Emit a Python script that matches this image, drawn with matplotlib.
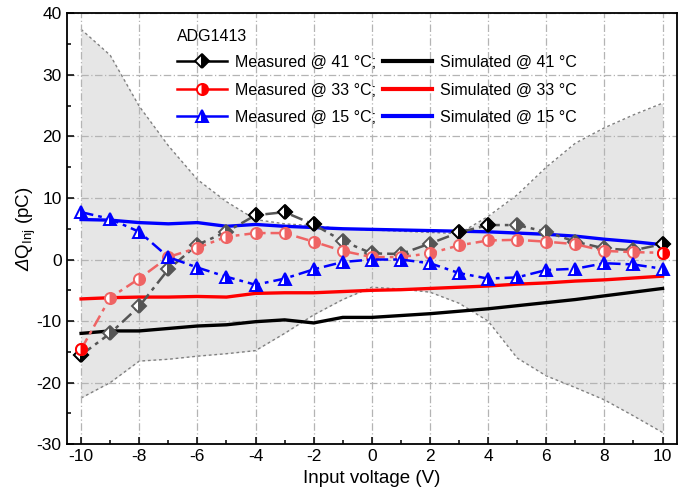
import matplotlib
matplotlib.use("Agg")
import matplotlib.pyplot as plt
from matplotlib.lines import Line2D
from matplotlib.ticker import MultipleLocator, FuncFormatter

plt.rcParams['font.family'] = ['Liberation Sans', 'DejaVu Sans']
plt.rcParams['mathtext.fontset'] = 'custom'
plt.rcParams['mathtext.rm'] = 'Liberation Sans:italic'
plt.rcParams['mathtext.it'] = 'Liberation Sans:italic'
plt.rcParams['mathtext.sf'] = 'Liberation Sans'

# ---------------- data ----------------
voltage = list(range(-10, 11))

meas_41 = [-15.5, -12.0, -7.6, -1.6, 2.4, 4.5, 7.2, 7.7, 5.7, 3.0, 1.0,
           0.9, 2.6, 4.4, 5.6, 5.6, 4.5, 2.9, 1.8, 1.5, 2.5]
meas_33 = [-14.6, -6.2, -3.1, 0.4, 1.9, 3.7, 4.3, 4.3, 2.9, 1.4, 0.4,
           0.4, 1.0, 2.3, 3.1, 3.2, 2.9, 2.5, 1.4, 1.2, 1.1]
meas_15 = [7.7, 6.6, 4.5, 0.4, -1.3, -2.8, -4.1, -3.1, -1.6, -0.4, 0.0,
           0.0, -0.6, -2.2, -3.1, -2.9, -1.7, -1.5, -0.6, -0.8, -1.5]

sim_41 = [-12.0, -11.6, -11.6, -11.2, -10.8, -10.6, -10.1, -9.8, -10.3, -9.4, -9.4,
          -9.1, -8.8, -8.4, -8.0, -7.5, -7.0, -6.5, -5.9, -5.3, -4.7]
sim_33 = [-6.4, -6.2, -6.1, -6.1, -6.0, -6.1, -5.5, -5.4, -5.4, -5.2, -5.0,
          -4.9, -4.7, -4.5, -4.3, -4.0, -3.8, -3.5, -3.3, -3.0, -2.7]
sim_15 = [6.5, 6.4, 6.0, 5.8, 6.0, 5.4, 5.7, 5.4, 5.2, 5.0, 4.9,
          4.8, 4.7, 4.6, 4.5, 4.3, 4.1, 3.8, 3.3, 2.9, 2.4]

band_upper = [37.4, 33.2, 24.9, 18.5, 13.0, 9.4, 6.5, 5.8, 5.5, 5.0, 4.8,
              4.6, 4.4, 4.2, 7.0, 10.5, 15.0, 18.9, 21.4, 23.5, 25.4]
band_lower = [-22.5, -20.0, -16.5, -16.2, -15.7, -15.3, -14.8, -12.0, -9.0, -6.5, -4.5,
              -4.8, -5.3, -7.1, -10.0, -16.0, -18.9, -20.8, -22.8, -25.4, -28.1]

# points of the 41 °C / 33 °C series that appear in the saturated colour
dark_41_x = [-10, -4, -3, -2, 3, 4, 10]
dark_33_x = [-10, 10]

legend_title = 'ADG1413'
labels_meas = ['Measured @ 41 °C;', 'Measured @ 33 °C;', 'Measured @ 15 °C;']
labels_sim = ['Simulated @ 41 °C', 'Simulated @ 33 °C', 'Simulated @ 15 °C']

# ---------------- figure ----------------
fig = plt.figure(figsize=(6.86, 4.93), dpi=100)
ax = fig.add_axes([0.097, 0.099, 0.890, 0.874])

ax.fill_between(voltage, band_lower, band_upper, color='#e6e6e6', lw=0, zorder=1)
ax.plot(voltage, band_upper, color='#808080', lw=1.0, ls=(0, (2, 2)), zorder=1.2)
ax.plot(voltage, band_lower, color='#808080', lw=1.0, ls=(0, (2, 2)), zorder=1.2)

dashdot = (0, (5, 2, 1.5, 2))
c41, c33, c15 = '#555555', '#ef6464', '#0000ff'

ax.plot(voltage, sim_41, color='black', lw=2.4, zorder=3)
ax.plot(voltage, sim_33, color='#ff0000', lw=2.4, zorder=3)
ax.plot(voltage, sim_15, color='#0000ff', lw=2.4, zorder=3)

ax.plot(voltage, meas_41, color=c41, lw=1.8, ls=dashdot, marker='D', ms=7.5,
        mew=1.4, mec=c41, mfc=c41, fillstyle='right', markerfacecoloralt='white', zorder=4)
dk41 = [(x, y) for x, y in zip(voltage, meas_41) if x in dark_41_x]
ax.plot([p[0] for p in dk41], [p[1] for p in dk41], ls='none', marker='D', ms=7.5,
        mew=1.4, mec='black', mfc='black', fillstyle='right', markerfacecoloralt='white', zorder=4.1)

ax.plot(voltage, meas_33, color=c33, lw=1.8, ls=dashdot, marker='o', ms=8,
        mew=1.4, mec=c33, mfc=c33, fillstyle='right', markerfacecoloralt='white', zorder=4.2)
dk33 = [(x, y) for x, y in zip(voltage, meas_33) if x in dark_33_x]
ax.plot([p[0] for p in dk33], [p[1] for p in dk33], ls='none', marker='o', ms=8,
        mew=1.4, mec='#ff0000', mfc='#ff0000', fillstyle='right', markerfacecoloralt='white', zorder=4.3)

ax.plot(voltage, meas_15, color=c15, lw=1.8, ls=dashdot, marker='^', ms=8.5,
        mew=1.4, mec=c15, mfc=c15, fillstyle='right', markerfacecoloralt='white', zorder=4.4)

ax.set_xlim(-10.5, 10.5)
ax.set_ylim(-30, 40)
ax.xaxis.set_major_locator(MultipleLocator(2))
ax.xaxis.set_minor_locator(MultipleLocator(1))
ax.yaxis.set_major_locator(MultipleLocator(10))
ax.yaxis.set_minor_locator(MultipleLocator(5))
ax.tick_params(which='both', direction='in', width=1.1, labelsize=12.5, top=False, right=False)
ax.tick_params(which='major', length=5)
ax.tick_params(which='minor', length=3)
ax.xaxis.set_major_formatter(FuncFormatter(lambda v, p: f'{int(v)}'))
ax.yaxis.set_major_formatter(FuncFormatter(lambda v, p: f'{int(v)}'))
for s in ax.spines.values():
    s.set_linewidth(1.3)
ax.grid(True, which='major', color='#b4b4b4', lw=0.9, ls=(0, (6, 2, 1, 2)))

ax.set_xlabel('Input voltage (V)', fontsize=13.5, labelpad=4)
ax.set_ylabel(r'$\Delta$Q$_{\mathsf{Inj}}$ (pC)', fontsize=13.5, labelpad=-1)

handles = [
    Line2D([], [], color='black', lw=1.8, marker='D', ms=7.5, mew=1.4,
           mfc='black', mec='black', fillstyle='right', markerfacecoloralt='white'),
    Line2D([], [], color='#ff0000', lw=1.8, marker='o', ms=8, mew=1.4,
           mfc='#ff0000', mec='#ff0000', fillstyle='right', markerfacecoloralt='white'),
    Line2D([], [], color='#0000ff', lw=1.8, marker='^', ms=8.5, mew=1.4,
           mfc='#0000ff', mec='#0000ff', fillstyle='right', markerfacecoloralt='white'),
    Line2D([], [], color='black', lw=3),
    Line2D([], [], color='#ff0000', lw=3),
    Line2D([], [], color='#0000ff', lw=3),
]
leg = ax.legend(handles, labels_meas + labels_sim, ncol=2, loc='upper left',
                bbox_to_anchor=(0.181, 0.964), frameon=False, fontsize=11.5,
                title=legend_title, title_fontsize=11.5, alignment='left',
                handlelength=3.1, handletextpad=0.5, columnspacing=0.45,
                labelspacing=0.78, borderpad=0, borderaxespad=0)
leg.set_zorder(10)
leg._legend_box.sep = 8

fig.savefig('out.png', dpi=100)
